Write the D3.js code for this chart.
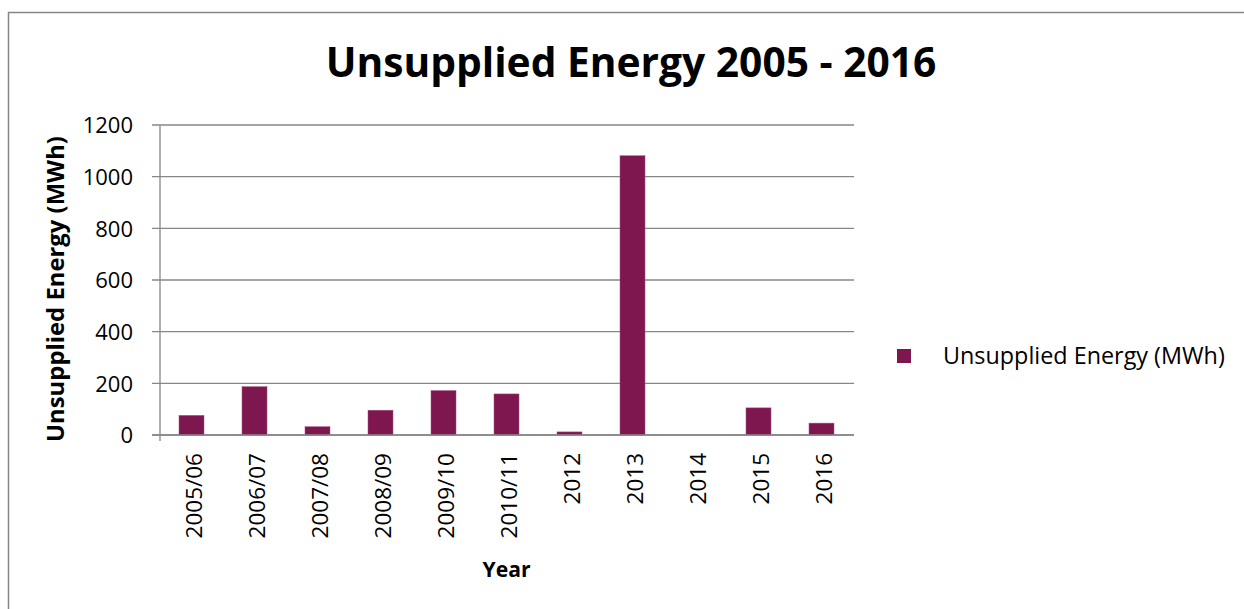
<!DOCTYPE html>
<html>
<head>
<meta charset="utf-8">
<script src="https://cdn.jsdelivr.net/npm/d3@7"></script>
<style>
  html, body { margin: 0; padding: 0; background: #fff; }
  svg { display: block; }
  text { font-family: "Open Sans", "Noto Sans", sans-serif; fill: #000; }
</style>
</head>
<body>
<svg id="chart" width="1244" height="609"></svg>
<script>
const categories = ["2005/06", "2006/07", "2007/08", "2008/09", "2009/10", "2010/11", "2012", "2013", "2014", "2015", "2016"];
const values = [76, 187, 32, 96, 172, 159, 12, 1081, 0, 105, 46];
const yTicks = [0, 200, 400, 600, 800, 1000, 1200];
const titleText = "Unsupplied Energy 2005 - 2016";
const seriesName = "Unsupplied Energy (MWh)";
const xTitle = "Year";
const yTitle = "Unsupplied Energy (MWh)";

const svg = d3.select("#chart");
const barColor = "#7e1750";
const gridColor = "#878787";

// outer chart border
svg.append("rect")
  .attr("x", 8.5).attr("y", 12.5)
  .attr("width", 1300).attr("height", 700)
  .attr("fill", "#fff").attr("stroke", "#868686").attr("stroke-width", 1.5);

const plot = { left: 160, right: 853, top: 125, bottom: 435 };

const x = d3.scaleBand()
  .domain(categories)
  .range([plot.left, plot.right])
  .paddingInner(0.603)
  .paddingOuter(0.3015);

const y = d3.scaleLinear()
  .domain([0, 1200])
  .range([plot.bottom, plot.top]);

function fitWidth(sel, target) {
  const fs = parseFloat(sel.style("font-size"));
  const len = sel.node().getComputedTextLength();
  sel.style("font-size", (fs * target / len) + "px");
}

// gridlines
svg.append("g")
  .selectAll("line")
  .data(yTicks)
  .join("line")
  .attr("x1", plot.left - 8)
  .attr("x2", plot.right + 1)
  .attr("y1", d => y(d))
  .attr("y2", d => y(d))
  .attr("stroke", gridColor)
  .attr("stroke-width", 1.3);

// y tick labels via axis
const gAxisY = svg.append("g")
  .attr("transform", `translate(${plot.left},0)`)
  .call(d3.axisLeft(y).tickValues(yTicks).tickSize(0).tickPadding(27).tickFormat(d3.format("d")));
gAxisY.select(".domain").remove();
gAxisY.selectAll("text")
  .style("font-family", '"Open Sans", sans-serif')
  .style("font-size", "22px")
  .attr("fill", "#000")
  .attr("dy", "0.36em");

// vertical axis line
svg.append("line")
  .attr("x1", plot.left).attr("x2", plot.left)
  .attr("y1", plot.top).attr("y2", plot.bottom + 6)
  .attr("stroke", gridColor).attr("stroke-width", 1.3);

// bars
svg.append("g")
  .selectAll("rect")
  .data(categories.map((c, i) => ({ c, v: values[i] })))
  .join("rect")
  .attr("x", d => x(d.c))
  .attr("width", x.bandwidth())
  .attr("y", d => y(d.v))
  .attr("height", d => y(0) - y(d.v))
  .attr("fill", barColor)
  .attr("stroke", "#a65585")
  .attr("stroke-width", 0.5);

// x axis baseline
svg.append("line")
  .attr("x1", plot.left - 8).attr("x2", plot.right + 1)
  .attr("y1", plot.bottom).attr("y2", plot.bottom)
  .attr("stroke", gridColor).attr("stroke-width", 1.3);

// x tick labels (rotated)
const gAxisX = svg.append("g")
  .attr("transform", `translate(0,${plot.bottom})`)
  .call(d3.axisBottom(x).tickSize(0).tickPadding(0));
gAxisX.select(".domain").remove();
gAxisX.selectAll("text")
  .style("font-family", '"Open Sans", sans-serif')
  .style("font-size", "22.5px")
  .attr("fill", "#000")
  .attr("text-anchor", "end")
  .attr("dy", null)
  .attr("y", 0)
  .attr("x", 0)
  .attr("transform", "translate(10,18) rotate(-90)");

// title
const t = svg.append("text")
  .attr("x", 631)
  .attr("y", 77)
  .attr("text-anchor", "middle")
  .style("font-weight", "bold")
  .style("font-size", "36px")
  .text(titleText);
fitWidth(t, 611);

// y axis title
const yt = svg.append("text")
  .attr("transform", `translate(64,289) rotate(-90)`)
  .attr("text-anchor", "middle")
  .style("font-weight", "bold")
  .style("font-size", "21px")
  .text(yTitle);
fitWidth(yt, 306);

// x axis title
const xt = svg.append("text")
  .attr("x", (plot.left + plot.right) / 2)
  .attr("y", 577)
  .attr("text-anchor", "middle")
  .style("font-weight", "bold")
  .style("font-size", "21px")
  .text(xTitle);
fitWidth(xt, 48);

// legend
const lg = svg.append("g");
lg.append("rect")
  .attr("x", 897).attr("y", 349)
  .attr("width", 14).attr("height", 14)
  .attr("fill", barColor);
const lt = lg.append("text")
  .attr("x", 943)
  .attr("y", 363.5)
  .style("font-size", "22px")
  .text(seriesName);
fitWidth(lt, 282);
</script>
</body>
</html>
